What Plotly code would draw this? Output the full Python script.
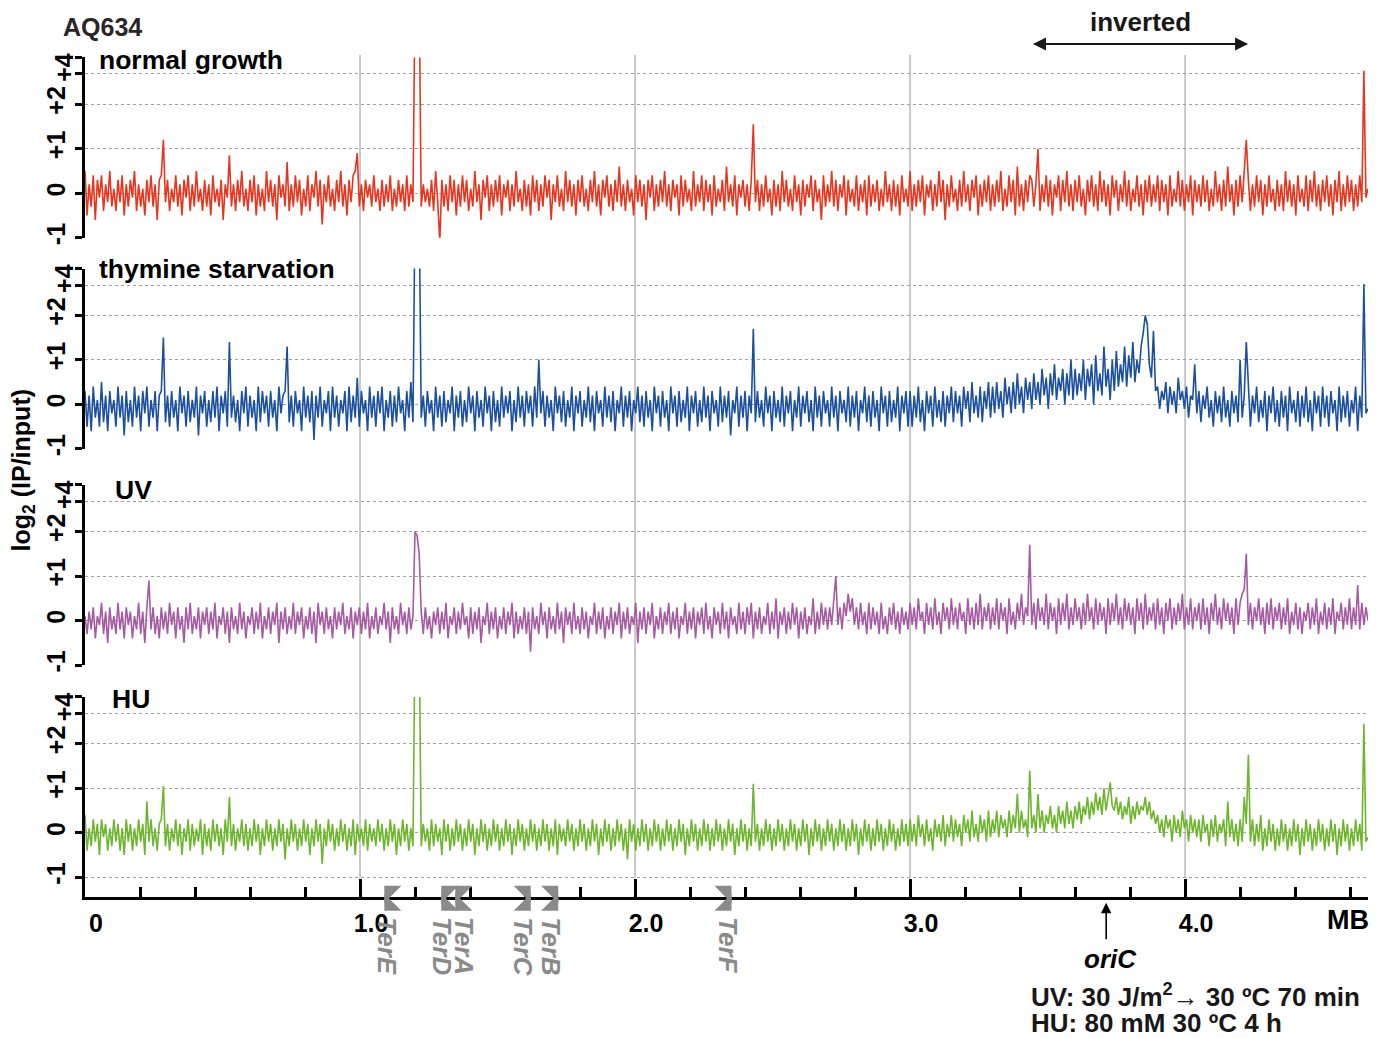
import plotly.graph_objects as go

W, H = 1388, 1038       # target picture size
BODY = 8                # default HTML body margin of the page
VSCALE = 1.0077         # compensates the slight vertical squeeze seen in the photographed page
BIN_MB = 0.0075         # genomic bin size (MB) of the tiled data points
GENOME_END = 4.665      # right end of the x axis (MB)

# ---------------- data (log2 IP/input per bin) ----------------
normal_growth = [
    0.5, -0.5, 0.2, -0.3, 0.4, -0.6, 0.3, -0.1, 0.4, -0.4, 0.2, -0.2, 0.5, -0.3, 0.1, -0.4, 0.3, -0.2, 0.4, -0.5,
    0.2, -0.3, 0.3, -0.1, 0.5, -0.4, 0.2, -0.3, 0.1, -0.5, 0.3, -0.2, 0.4, -0.3, 0.2, -0.6, 0.3, 0.4, 1.2, -0.2,
    0.3, -0.4, 0.1, -0.2, 0.4, -0.3, 0.2, -0.5, 0.3, -0.1, 0.4, -0.4, 0.2, -0.3, 0.5, -0.2, 0.1, -0.4, 0.3, -0.3,
    0.2, -0.5, 0.4, -0.2, 0.1, -0.3, 0.3, -0.6, 0.2, -0.1, 0.85, -0.3, 0.2, -0.4, 0.3, -0.2, 0.5, -0.3, 0.1, -0.4,
    0.3, -0.2, 0.4, -0.5, 0.2, -0.3, 0.1, -0.4, 0.5, -0.2, 0.3, -0.3, 0.2, -0.6, 0.4, -0.1, 0.2, -0.3, 0.7, -0.4,
    0.2, -0.3, 0.4, -0.2, 0.3, -0.5, 0.1, -0.3, 0.4, -0.4, 0.2, -0.1, 0.5, -0.3, 0.3, -0.7, 0.2, -0.2, 0.4, -0.3,
    0.1, -0.4, 0.3, -0.2, 0.5, -0.3, 0.2, -0.5, 0.3, -0.2, 0.4, 0.5, 0.9, -0.3, 0.2, -0.4, 0.3, -0.1, 0.2, -0.3,
    0.4, -0.2, 0.1, -0.4, 0.3, -0.3, 0.2, -0.2, 0.4, -0.4, 0.1, -0.3, 0.3, -0.2, 0.2, -0.4, 0.4, -0.3, 0.2, -0.2,
    4.5, 4.5, 4.5, -0.3, 0.2, -0.2, 0.1, -0.3, 0.3, -0.4, 0.5, -0.2, -1.1, 0.3, -0.3, 0.2, -0.4, 0.4, -0.2, 0.3,
    -0.5, 0.2, -0.3, 0.4, -0.2, 0.3, -0.4, 0.1, -0.3, 0.5, -0.2, 0.2, -0.6, 0.3, -0.1, 0.4, -0.4, 0.2, -0.3, 0.3,
    -0.2, 0.4, -0.5, 0.2, -0.1, 0.3, -0.4, 0.2, -0.3, 0.5, -0.2, 0.1, -0.4, 0.3, -0.3, 0.2, -0.5, 0.4, -0.2, 0.3,
    -0.4, 0.2, -0.3, 0.4, -0.1, 0.3, -0.6, 0.2, -0.2, 0.4, -0.3, 0.1, -0.4, 0.5, -0.2, 0.3, -0.3, 0.2, -0.5, 0.3,
    -0.2, 0.4, -0.3, 0.1, -0.4, 0.3, -0.2, 0.5, -0.3, 0.2, -0.5, 0.3, -0.1, 0.4, -0.3, 0.2, -0.4, 0.3, -0.2, 0.6,
    -0.3, 0.2, -0.4, 0.3, -0.2, 0.1, -0.5, 0.4, -0.2, 0.3, -0.3, 0.2, -0.6, 0.3, -0.1, 0.4, -0.4, 0.2, -0.3, 0.3,
    -0.2, 0.5, -0.3, 0.2, -0.4, 0.3, -0.1, 0.2, -0.5, 0.4, -0.3, 0.3, -0.2, 0.1, -0.4, 0.5, -0.3, 0.2, -0.2, 0.4,
    -0.4, 0.3, -0.2, 0.2, -0.5, 0.4, -0.3, 0.1, -0.2, 0.3, -0.4, 0.6, -0.2, 0.2, -0.3, 0.4, -0.5, 0.2, -0.1, 0.3,
    -0.3, 0.2, -0.4, 0.3, 1.55, -0.2, 0.3, -0.4, 0.2, -0.3, 0.4, -0.2, 0.1, -0.5, 0.3, -0.3, 0.2, -0.4, 0.5, -0.2,
    0.3, -0.3, 0.1, -0.4, 0.4, -0.2, 0.2, -0.5, 0.3, -0.3, 0.2, -0.1, 0.4, -0.4, 0.3, -0.2, 0.1, -0.6, 0.4, -0.3,
    0.2, -0.2, 0.5, -0.3, 0.3, -0.4, 0.2, -0.1, 0.4, -0.5, 0.3, -0.2, 0.1, -0.3, 0.4, -0.4, 0.2, -0.2, 0.3, -0.5,
    0.4, -0.3, 0.2, -0.2, 0.3, -0.4, 0.1, -0.3, 0.5, -0.2, 0.2, -0.4, 0.3, -0.3, 0.2, -0.5, 0.4, -0.2, 0.1, -0.3,
    0.5, -0.4, 0.2, -0.3, 0.3, -0.2, 0.4, -0.5, 0.2, -0.1, 0.3, -0.4, 0.2, -0.3, 0.5, -0.2, 0.3, -0.6, 0.2, -0.3,
    0.4, -0.2, 0.1, -0.4, 0.3, -0.3, 0.5, -0.2, 0.2, -0.4, 0.3, -0.1, 0.4, -0.5, 0.2, -0.3, 0.3, -0.2, 0.4, -0.4,
    0.2, -0.3, 0.3, -0.2, 0.5, -0.4, 0.1, -0.3, 0.4, -0.2, 0.3, -0.5, 0.6, -0.3, 0.2, -0.4, 0.3, -0.2, 0.4, 0.3,
    -0.3, 0.2, 1.0, -0.4, 0.2, -0.2, 0.4, -0.3, 0.3, -0.5, 0.2, -0.1, 0.4, -0.4, 0.3, -0.2, 0.5, -0.3, 0.2, -0.4,
    0.3, -0.2, 0.4, -0.3, 0.1, -0.5, 0.3, -0.2, 0.4, -0.3, 0.2, -0.4, 0.5, -0.2, 0.3, -0.3, 0.2, -0.5, 0.4, -0.1,
    0.3, -0.4, 0.2, -0.2, 0.5, -0.3, 0.3, -0.4, 0.1, -0.2, 0.4, -0.3, 0.2, -0.5, 0.3, -0.2, 0.4, -0.3, 0.2, -0.2,
    0.4, -0.4, 0.3, -0.2, 0.2, -0.5, 0.4, -0.3, 0.1, -0.2, 0.5, -0.3, 0.3, -0.4, 0.2, -0.2, 0.4, -0.5, 0.3, -0.2,
    0.2, -0.3, 0.4, -0.2, 0.3, -0.4, 0.1, -0.3, 0.5, -0.2, 0.2, -0.4, 0.3, -0.3, 0.6, -0.2, 0.2, -0.5, 0.3, -0.3,
    0.4, -0.2, 0.5, 1.2, 0.3, -0.4, 0.2, -0.3, 0.4, -0.2, 0.3, -0.5, 0.2, -0.3, 0.4, -0.2, 0.1, -0.4, 0.3, -0.3,
    0.2, -0.4, 0.5, -0.2, 0.3, -0.3, 0.2, -0.5, 0.4, -0.2, 0.1, -0.3, 0.4, -0.4, 0.3, -0.2, 0.5, -0.3, 0.2, -0.4,
    0.3, -0.2, 0.4, -0.3, 0.2, -0.5, 0.3, -0.2, 0.5, -0.4, 0.2, -0.3, 0.4, -0.2, 0.3, -0.4, 0.2, -0.3, 0.4, -0.2,
    2.75, -0.1, 0.1,
]

thymine_starvation = [
    0.3, -0.5, 0.2, -0.6, 0.4, -0.3, 0.1, -0.5, 0.5, -0.4, 0.2, -0.6, 0.3, -0.2, 0.1, -0.5, 0.4, -0.3, 0.2, -0.7,
    0.3, -0.4, 0.1, -0.5, 0.4, -0.3, 0.2, -0.6, 0.3, -0.2, 0.4, -0.5, 0.1, -0.3, 0.3, -0.6, 0.2, 0.3, 1.5, -0.4,
    0.2, -0.5, 0.3, -0.3, 0.1, -0.6, 0.4, -0.2, 0.2, -0.5, 0.3, -0.4, 0.1, -0.3, 0.4, -0.7, 0.2, -0.2, 0.3, -0.5,
    0.1, -0.4, 0.3, -0.3, 0.4, -0.6, 0.2, -0.2, 0.3, -0.5, 1.4, -0.3, 0.2, -0.4, 0.1, -0.6, 0.3, -0.2, 0.4, -0.5,
    0.2, -0.3, 0.1, -0.6, 0.4, -0.4, 0.3, -0.2, 0.2, -0.5, 0.3, -0.3, 0.1, -0.6, 0.4, -0.2, 0.2, 0.3, 1.3, -0.4,
    0.2, -0.5, 0.3, -0.2, 0.1, -0.6, 0.4, -0.3, 0.2, -0.4, 0.3, -0.8, 0.2, -0.3, 0.4, -0.5, 0.1, -0.2, 0.3, -0.6,
    0.4, -0.3, 0.2, -0.5, 0.1, -0.2, 0.3, -0.6, 0.4, -0.4, 0.2, -0.3, 0.6, -0.5, 0.3, -0.2, 0.1, -0.6, 0.4, -0.3,
    0.2, -0.5, 0.3, -0.2, 0.4, -0.6, 0.1, -0.3, 0.3, -0.5, 0.2, -0.4, 0.4, -0.2, 0.1, -0.6, 0.3, -0.3, 0.5, -0.4,
    4.5, 4.5, 4.5, -0.3, 0.2, -0.5, 0.3, -0.2, 0.1, -0.6, 0.4, -0.3, 0.2, -0.5, 0.3, -0.4, 0.1, -0.2, 0.4, -0.6,
    0.2, -0.3, 0.3, -0.5, 0.1, -0.4, 0.4, -0.2, 0.2, -0.6, 0.3, -0.3, 0.1, -0.5, 0.4, -0.2, 0.2, -0.6, 0.3, -0.4,
    0.1, -0.5, 0.4, -0.3, 0.2, -0.2, 0.3, -0.6, 0.1, -0.4, 0.4, -0.3, 0.2, -0.5, 0.3, -0.2, 0.2, -0.5, 0.4, -0.3,
    1.0, -0.2, 0.3, -0.5, 0.2, -0.3, 0.1, -0.6, 0.4, -0.2, 0.2, -0.4, 0.3, -0.5, 0.1, -0.3, 0.4, -0.6, 0.2, -0.2,
    0.3, -0.5, 0.1, -0.3, 0.4, -0.4, 0.2, -0.6, 0.3, -0.2, 0.1, -0.5, 0.4, -0.3, 0.2, -0.4, 0.3, -0.6, 0.1, -0.2,
    0.4, -0.5, 0.2, -0.3, 0.3, -0.6, 0.1, -0.2, 0.4, -0.4, 0.2, -0.5, 0.3, -0.3, 0.1, -0.6, 0.4, -0.2, 0.2, -0.5,
    0.3, -0.3, 0.1, -0.6, 0.4, -0.2, 0.2, -0.5, 0.3, -0.4, 0.1, -0.3, 0.4, -0.6, 0.2, -0.2, 0.3, -0.5, 0.1, -0.4,
    0.4, -0.3, 0.2, -0.6, 0.3, -0.2, 0.1, -0.5, 0.4, -0.4, 0.2, -0.3, 0.3, -0.7, 0.1, -0.2, 0.4, -0.5, 0.2, -0.3,
    0.3, -0.6, 0.2, -0.2, 1.7, -0.4, 0.3, -0.3, 0.1, -0.5, 0.4, -0.2, 0.2, -0.6, 0.3, -0.3, 0.1, -0.4, 0.4, -0.5,
    0.2, -0.2, 0.3, -0.6, 0.1, -0.3, 0.4, -0.5, 0.2, -0.2, 0.3, -0.4, 0.1, -0.6, 0.4, -0.3, 0.2, -0.5, 0.3, -0.2,
    0.1, -0.5, 0.4, -0.3, 0.2, -0.6, 0.3, -0.2, 0.1, -0.4, 0.4, -0.5, 0.2, -0.3, 0.3, -0.6, 0.1, -0.2, 0.4, -0.4,
    0.2, -0.5, 0.3, -0.3, 0.1, -0.6, 0.4, -0.2, 0.2, -0.5, 0.3, -0.4, 0.1, -0.3, 0.4, -0.6, 0.2, -0.2, 0.3, -0.5,
    0.3, -0.5, 0.2, -0.3, 0.4, -0.4, 0.1, -0.6, 0.3, -0.2, 0.2, -0.5, 0.4, -0.3, 0.1, -0.4, 0.3, -0.5, 0.2, -0.2,
    0.4, -0.4, 0.3, -0.2, 0.2, -0.5, 0.4, -0.1, 0.3, -0.4, 0.5, -0.2, 0.2, -0.3, 0.4, -0.4, 0.3, -0.1, 0.5, -0.3,
    0.4, -0.2, 0.5, -0.1, 0.3, -0.3, 0.6, 0.0, 0.4, -0.2, 0.5, -0.1, 0.7, 0.0, 0.4, -0.2, 0.6, 0.1, 0.5, -0.1,
    0.7, 0.1, 0.5, 0.0, 0.8, 0.2, 0.6, -0.1, 0.7, 0.2, 0.9, 0.1, 0.6, 0.3, 0.8, 0.0, 0.7, 0.2, 1.0, 0.1,
    0.8, 0.2, 0.7, 0.3, 1.0, 0.1, 0.8, 0.4, 0.9, 0.0, 1.1, 0.3, 0.7, 0.2, 1.3, 0.4, 0.8, 0.1, 1.0, 0.3,
    1.2, 0.4, 0.9, 0.5, 1.3, 0.4, 1.1, 0.6, 1.4, 0.5, 1.0, 0.7, 1.3, 1.6, 2.0, 1.8, 0.9, 0.6, 1.65, 0.3,
    0.4, -0.1, 0.3, 0.1, 0.5, -0.2, 0.4, 0.0, 0.3, -0.2, 0.6, 0.1, 0.3, -0.1, 0.4, -0.3, 0.2, 0.1, 0.9, -0.2,
    0.3, -0.4, 0.2, -0.1, 0.4, -0.3, 0.1, -0.5, 0.3, -0.2, 0.2, -0.4, 0.4, -0.3, 0.1, -0.5, 0.3, -0.2, 0.2, -0.4,
    1.0, -0.3, 0.2, 1.4, 0.3, -0.5, 0.2, -0.2, 0.4, -0.4, 0.1, -0.3, 0.3, -0.6, 0.2, -0.2, 0.4, -0.4, 0.1, -0.5,
    0.3, -0.3, 0.2, -0.6, 0.4, -0.2, 0.1, -0.4, 0.3, -0.5, 0.2, -0.3, 0.4, -0.4, 0.1, -0.6, 0.3, -0.2, 0.2, -0.5,
    0.4, -0.3, 0.2, -0.5, 0.3, -0.2, 0.1, -0.6, 0.4, -0.4, 0.2, -0.3, 0.3, -0.5, 0.1, -0.2, 0.4, -0.6, 0.2, -0.3,
    2.7, -0.2, -0.1,
]

uv = [
    0.1, -0.3, 0.2, -0.2, 0.3, -0.4, 0.1, -0.1, 0.4, -0.3, 0.2, -0.5, 0.3, -0.2, 0.1, -0.3, 0.4, -0.2, 0.2, -0.4,
    0.3, -0.1, 0.2, -0.4, 0.1, -0.2, 0.4, -0.3, 0.2, -0.5, 0.3, 0.9, -0.2, 0.3, -0.3, 0.1, -0.4, 0.3, -0.2, 0.2,
    -0.3, 0.4, -0.1, 0.2, -0.4, 0.3, -0.2, 0.1, -0.5, 0.3, -0.2, 0.4, -0.3, 0.1, -0.2, 0.3, -0.4, 0.2, -0.1, 0.3,
    -0.3, 0.2, -0.2, 0.4, -0.4, 0.1, -0.1, 0.3, -0.3, 0.2, -0.5, 0.3, -0.2, 0.1, -0.3, 0.4, -0.2, 0.2, -0.4, 0.1,
    -0.1, 0.3, -0.3, 0.2, -0.2, 0.4, -0.4, 0.1, -0.2, 0.3, -0.3, 0.2, -0.1, 0.4, -0.5, 0.2, -0.2, 0.3, -0.3, 0.1,
    -0.2, 0.4, -0.3, 0.2, -0.1, 0.3, -0.4, 0.1, -0.2, 0.3, -0.3, 0.2, -0.5, 0.4, -0.1, 0.2, -0.3, 0.3, -0.2, 0.1,
    -0.4, 0.3, -0.2, 0.2, -0.1, 0.4, -0.3, 0.1, -0.2, 0.3, -0.4, 0.2, -0.1, 0.3, -0.3, 0.2, -0.2, 0.4, -0.4, 0.1,
    -0.2, 0.3, -0.3, 0.1, -0.1, 0.4, -0.2, 0.2, -0.5, 0.3, -0.2, 0.1, -0.3, 0.4, -0.1, 0.2, -0.3, 0.3, -0.2, 0.1,
    2.0, 1.9, 1.5, 0.2, -0.3, 0.3, -0.2, 0.1, -0.4, 0.2, -0.1, 0.3, -0.3, 0.2, -0.2, 0.4, -0.4, 0.1, -0.1, 0.3,
    -0.3, 0.2, -0.2, 0.4, -0.1, 0.1, -0.4, 0.3, -0.3, 0.2, -0.2, 0.3, -0.5, 0.1, -0.1, 0.4, -0.3, 0.2, -0.2, 0.3,
    -0.4, 0.1, -0.2, 0.3, -0.3, 0.2, -0.1, 0.4, -0.4, 0.2, -0.3, 0.1, -0.2, 0.3, -0.3, 0.2, -0.7, 0.3, -0.2, 0.1,
    -0.3, 0.4, -0.1, 0.2, -0.4, 0.3, -0.2, 0.1, -0.3, 0.4, -0.2, 0.2, -0.5, 0.3, -0.1, 0.2, -0.3, 0.4, -0.2, 0.1,
    -0.3, 0.3, -0.2, 0.2, -0.4, 0.1, -0.1, 0.4, -0.3, 0.2, -0.2, 0.3, -0.4, 0.1, -0.2, 0.3, -0.3, 0.2, -0.1, 0.4,
    -0.4, 0.2, -0.2, 0.3, -0.3, 0.1, -0.1, 0.4, -0.5, 0.2, -0.2, 0.3, -0.3, 0.2, -0.1, 0.4, -0.4, 0.1, -0.2, 0.3,
    -0.3, 0.2, -0.1, 0.4, -0.3, 0.2, -0.2, 0.3, -0.4, 0.1, -0.1, 0.4, -0.3, 0.2, -0.2, 0.3, -0.4, 0.2, -0.1, 0.3,
    -0.3, 0.4, -0.2, 0.1, -0.4, 0.3, -0.1, 0.2, -0.3, 0.4, -0.2, 0.2, -0.4, 0.3, -0.1, 0.1, -0.3, 0.4, -0.2, 0.2,
    -0.3, 0.3, -0.1, 0.4, -0.4, 0.2, -0.2, 0.3, -0.3, 0.1, -0.1, 0.4, -0.3, 0.2, -0.2, 0.5, -0.4, 0.2, -0.1, 0.3,
    -0.3, 0.2, -0.2, 0.4, -0.1, 0.3, -0.4, 0.2, -0.2, 0.3, -0.3, 0.1, -0.1, 0.5, -0.3, 0.2, -0.2, 0.4, -0.1, 0.3,
    -0.2, 0.3, -0.1, 0.4, 1.0, -0.1, 0.3, -0.2, 0.4, 0.1, 0.6, 0.2, 0.5, -0.1, 0.3, -0.2, 0.4, -0.1, 0.2, -0.3,
    0.4, -0.2, 0.3, -0.1, 0.2, -0.3, 0.4, -0.2, 0.1, -0.3, 0.3, -0.1, 0.4, -0.2, 0.2, -0.3, 0.3, -0.1, 0.2, -0.2,
    0.4, -0.1, 0.3, -0.2, 0.5, 0.0, 0.2, -0.3, 0.4, -0.1, 0.3, -0.2, 0.5, -0.1, 0.2, -0.3, 0.4, 0.0, 0.3, -0.2,
    0.5, -0.1, 0.3, -0.2, 0.4, 0.0, 0.2, -0.3, 0.5, -0.1, 0.3, -0.2, 0.4, -0.1, 0.6, -0.2, 0.3, 0.0, 0.4, -0.2,
    0.3, -0.1, 0.5, -0.2, 0.4, 0.0, 0.3, -0.3, 0.5, -0.1, 0.2, -0.2, 0.4, 0.0, 0.6, -0.1, 0.3, 0.1, 1.7, -0.1,
    0.4, -0.2, 0.5, 0.0, 0.3, -0.1, 0.6, -0.2, 0.4, 0.0, 0.3, -0.3, 0.5, -0.1, 0.4, 0.0, 0.6, -0.2, 0.3, -0.1,
    0.5, 0.0, 0.3, -0.2, 0.4, -0.1, 0.6, 0.0, 0.3, -0.2, 0.5, -0.1, 0.4, 0.0, 0.3, -0.3, 0.5, -0.1, 0.4, 0.0,
    0.6, -0.1, 0.3, -0.2, 0.5, 0.0, 0.4, -0.1, 0.3, -0.3, 0.5, 0.0, 0.4, -0.2, 0.6, -0.1, 0.3, 0.0, 0.4, -0.2,
    0.5, -0.1, 0.3, -0.3, 0.4, 0.0, 0.5, -0.2, 0.3, -0.1, 0.4, 0.0, 0.6, -0.2, 0.3, -0.1, 0.5, -0.2, 0.3, 0.0,
    0.4, -0.2, 0.5, -0.1, 0.3, -0.3, 0.4, 0.0, 0.6, -0.1, 0.3, -0.2, 0.5, 0.0, 0.4, -0.1, 0.3, -0.3, 0.5, -0.1,
    0.4, 0.6, 0.7, 1.5, -0.1, 0.4, -0.2, 0.3, 0.0, 0.5, -0.1, 0.3, -0.3, 0.4, -0.1, 0.5, -0.2, 0.3, 0.0, 0.4,
    -0.2, 0.3, -0.1, 0.5, -0.3, 0.2, -0.1, 0.4, -0.2, 0.3, -0.3, 0.2, 0.0, 0.4, -0.2, 0.3, -0.1, 0.5, -0.3, 0.2,
    -0.1, 0.4, -0.2, 0.3, -0.1, 0.5, -0.3, 0.2, 0.0, 0.4, -0.2, 0.3, -0.1, 0.5, -0.2, 0.3, -0.1, 0.8, -0.2, 0.4,
    -0.1, 0.3, 0.0,
]

hu = [
    0.4, -0.4, 0.1, -0.3, 0.3, -0.2, 0.2, -0.5, 0.3, -0.1, 0.2, -0.4, 0.1, -0.3, 0.3, -0.2, 0.2, -0.4, 0.1, -0.5,
    0.3, -0.2, 0.2, -0.4, 0.1, -0.3, 0.3, -0.2, 0.2, -0.5, 0.7, -0.2, 0.3, -0.3, 0.1, -0.4, 0.2, 0.3, 1.05, -0.3,
    0.2, -0.4, 0.1, -0.2, 0.3, -0.3, 0.2, -0.5, 0.1, -0.2, 0.3, -0.4, 0.2, -0.3, 0.1, -0.2, 0.3, -0.5, 0.2, -0.3,
    0.1, -0.4, 0.3, -0.2, 0.2, -0.3, 0.1, -0.5, 0.3, -0.2, 0.8, -0.3, 0.2, -0.4, 0.1, -0.2, 0.3, -0.3, 0.2, -0.4,
    0.1, -0.3, 0.3, -0.2, 0.2, -0.5, 0.1, -0.3, 0.3, -0.2, 0.2, -0.4, 0.1, -0.3, 0.3, -0.2, 0.2, -0.6, 0.1, -0.3,
    0.3, -0.2, 0.2, -0.4, 0.1, -0.3, 0.3, -0.2, 0.2, -0.5, 0.1, -0.3, 0.3, -0.2, 0.2, -0.7, 0.1, -0.3, 0.3, -0.2,
    0.2, -0.4, 0.1, -0.3, 0.3, -0.2, 0.2, -0.4, 0.1, -0.3, 0.3, -0.5, 0.2, -0.2, 0.1, -0.3, 0.3, -0.4, 0.2, -0.2,
    0.1, -0.3, 0.3, -0.2, 0.2, -0.4, 0.1, -0.3, 0.3, -0.2, 0.2, -0.5, 0.1, -0.3, 0.3, -0.2, 0.2, -0.4, 0.1, -0.3,
    4.5, 4.5, 4.5, -0.3, 0.2, -0.2, 0.1, -0.4, 0.3, -0.3, 0.2, -0.2, 0.1, -0.5, 0.3, -0.2, 0.2, -0.4, 0.1, -0.3,
    0.3, -0.2, 0.2, -0.4, 0.1, -0.3, 0.3, -0.2, 0.2, -0.5, 0.1, -0.3, 0.3, -0.2, 0.2, -0.4, 0.1, -0.3, 0.3, -0.2,
    0.2, -0.4, 0.1, -0.3, 0.3, -0.2, 0.2, -0.5, 0.1, -0.3, 0.3, -0.2, 0.2, -0.4, 0.1, -0.3, 0.3, -0.2, 0.2, -0.4,
    0.1, -0.3, 0.3, -0.2, 0.2, -0.4, 0.1, -0.3, 0.3, -0.5, 0.2, -0.2, 0.1, -0.3, 0.3, -0.2, 0.2, -0.4, 0.1, -0.3,
    0.3, -0.2, 0.2, -0.4, 0.1, -0.3, 0.3, -0.2, 0.2, -0.5, 0.1, -0.3, 0.3, -0.2, 0.2, -0.4, 0.1, -0.3, 0.3, -0.2,
    0.2, -0.4, 0.1, -0.6, 0.3, -0.2, 0.2, -0.4, 0.1, -0.3, 0.3, -0.2, 0.2, -0.4, 0.1, -0.3, 0.3, -0.2, 0.2, -0.4,
    0.1, -0.3, 0.3, -0.2, 0.2, -0.4, 0.1, -0.3, 0.3, -0.2, 0.2, -0.5, 0.1, -0.3, 0.3, -0.2, 0.2, -0.4, 0.1, -0.3,
    0.3, -0.2, 0.2, -0.4, 0.1, -0.3, 0.3, -0.2, 0.2, -0.4, 0.1, -0.3, 0.3, -0.2, 0.2, -0.5, 0.1, -0.3, 0.3, -0.2,
    0.2, -0.4, 0.1, -0.3, 1.1, -0.2, 0.2, -0.4, 0.1, -0.3, 0.3, -0.2, 0.2, -0.4, 0.1, -0.3, 0.3, -0.2, 0.2, -0.4,
    0.1, -0.3, 0.3, -0.2, 0.2, -0.4, 0.1, -0.3, 0.3, -0.2, 0.2, -0.5, 0.1, -0.3, 0.3, -0.2, 0.2, -0.4, 0.1, -0.3,
    0.3, -0.2, 0.2, -0.4, 0.1, -0.3, 0.3, -0.2, 0.2, -0.4, 0.1, -0.3, 0.3, -0.2, 0.2, -0.5, 0.1, -0.3, 0.3, -0.2,
    0.2, -0.4, 0.1, -0.3, 0.3, -0.2, 0.2, -0.4, 0.1, -0.3, 0.3, -0.2, 0.2, -0.4, 0.1, -0.3, 0.3, -0.2, 0.2, -0.3,
    0.3, -0.2, 0.2, -0.3, 0.4, -0.1, 0.2, -0.3, 0.3, -0.2, 0.1, -0.4, 0.3, -0.1, 0.2, -0.2, 0.4, -0.3, 0.2, -0.1,
    0.4, -0.2, 0.3, -0.1, 0.2, -0.3, 0.4, 0.0, 0.3, -0.2, 0.5, -0.1, 0.2, -0.2, 0.4, 0.0, 0.3, -0.2, 0.5, -0.1,
    0.3, 0.0, 0.5, -0.1, 0.4, 0.1, 0.3, -0.1, 0.5, 0.0, 0.4, 0.1, 0.87, 0.0, 0.5, 0.1, 0.3, -0.1, 1.4, 0.1,
    0.4, 0.0, 0.87, 0.1, 0.5, 0.0, 0.4, 0.2, 0.6, 0.1, 0.4, 0.0, 0.6, 0.2, 0.5, 0.1, 0.7, 0.2, 0.5, 0.1,
    0.6, 0.3, 0.7, 0.2, 0.6, 0.4, 0.8, 0.3, 0.7, 0.4, 0.9, 0.5, 0.8, 0.4, 1.0, 0.5, 0.8, 1.13, 0.6, 0.5,
    0.8, 0.4, 0.7, 0.3, 0.6, 0.4, 0.8, 0.2, 0.6, 0.3, 0.7, 0.4, 0.6, 0.5, 0.8, 0.4, 0.7, 0.3, 0.5, 0.2,
    0.4, 0.0, 0.3, -0.1, 0.4, 0.1, 0.3, -0.2, 0.4, 0.0, 0.3, -0.1, 0.5, 0.1, 0.3, -0.2, 0.4, 0.0, 0.3, -0.1,
    0.3, -0.2, 0.4, 0.0, 0.2, -0.3, 0.3, -0.1, 0.4, -0.2, 0.2, 0.0, 0.3, -0.3, 0.7, -0.1, 0.3, -0.2, 0.2, -0.3,
    0.3, -0.2, 0.8, 0.2, 1.75, -0.2, 0.3, -0.3, 0.2, -0.2, 0.4, -0.4, 0.1, -0.3, 0.3, -0.2, 0.2, -0.4, 0.1, -0.3,
    0.3, -0.2, 0.2, -0.4, 0.1, -0.3, 0.3, -0.2, 0.2, -0.5, 0.1, -0.3, 0.3, -0.2, 0.2, -0.4, 0.1, -0.3, 0.3, -0.2,
    0.2, -0.4, 0.1, -0.3, 0.3, -0.2, 0.2, -0.5, 0.1, -0.3, 0.3, -0.2, 0.2, -0.4, 0.1, -0.3, 0.3, -0.2, 0.2, -0.4,
    2.45, -0.2, -0.1,
]

panel_titles = ["normal growth", "thymine starvation", "UV", "HU"]
panel_series = [normal_growth, thymine_starvation, uv, hu]
panel_colors = ["#e8351e", "#1b4f9f", "#a65aa2", "#6cb52d"]

x_tick_vals = [0, 1, 2, 3, 4]
x_tick_text = ["0", "1.0", "2.0", "3.0", "4.0"]
y_tick_vals = [-1, 0, 1, 2, 2.68, 3.05]
y_tick_text = ["-1", "0", "+1", "+2", "", ""]
y_top_label = "+4"

ter_names = ["TerE", "TerD", "TerA", "TerC", "TerB", "TerF"]
ter_pos = [1.109, 1.316, 1.367, 1.600, 1.700, 2.330]
ter_orient = ["L", "L", "L", "R", "R", "R"]

oric_pos = 3.713
inverted_span = [3.447, 4.229]

# ---------------- layout helpers (reference pixel -> paper fraction) ----------------
FW, FH = W - 2 * BODY, H - BODY

def fx(px):
    return (px - BODY) / FW

def fy(py):
    return 1 - (py * VSCALE - BODY) / FH

PX_PER_UNIT = 44.5
zero_px = [193, 404, 620, 832]
y_top = 3.05
y_bottom = [-1.0, -1.0, -1.0, -1.45]

FONT = "Liberation Sans, Arial, Helvetica, sans-serif"
INK = "#1a1718"

fig = go.Figure()

for k, (vals, col) in enumerate(zip(panel_series, panel_colors)):
    xs = [i * BIN_MB for i in range(len(vals))]
    fig.add_trace(go.Scatter(
        x=xs, y=vals, mode="lines", name=panel_titles[k],
        line=dict(color=col, width=1.6), xaxis="x", yaxis="y" if k == 0 else f"y{k+1}",
        hoverinfo="skip",
    ))

# Ter site markers (two right-triangles per site form the notched arrow glyph)
for name, pos, o in zip(ter_names, ter_pos, ter_orient):
    top_sym = "triangle-nw" if o == "L" else "triangle-ne"
    bot_sym = "triangle-sw" if o == "L" else "triangle-se"
    fig.add_trace(go.Scatter(
        x=[pos, pos], y=[0.5, -0.5], mode="markers", xaxis="x", yaxis="y5",
        marker=dict(symbol=[top_sym, bot_sym], size=19, color="#8a8a8a", line=dict(width=0)),
        hoverinfo="skip",
    ))

layout = dict(
    width=FW, height=FH, margin=dict(l=0, r=0, t=0, b=0),
    paper_bgcolor="white", plot_bgcolor="rgba(0,0,0,0)",
    showlegend=False,
    font=dict(family=FONT, color=INK),
    xaxis=dict(
        domain=[fx(85), fx(1368)], range=[0, GENOME_END], anchor="y4",
        showline=True, linewidth=2.5, linecolor="black", mirror=False,
        ticks="inside", ticklen=19, tickwidth=2.5, tickcolor="black",
        tickmode="array", tickvals=x_tick_vals, ticktext=x_tick_text,
        tickfont=dict(size=25, weight="bold", color="black", family=FONT),
        ticklabelshift=11, ticklabelstandoff=2,
        minor=dict(tickmode="linear", tick0=0, dtick=0.2, ticks="inside",
                   ticklen=11, tickwidth=2.5, tickcolor="black", showgrid=False),
        showgrid=False, zeroline=False,
    ),
    yaxis5=dict(domain=[fy(911), fy(884)], range=[-1, 1], anchor="x",
                visible=False, showgrid=False, zeroline=False),
)

for k in range(4):
    top_px = zero_px[k] - y_top * PX_PER_UNIT
    bot_px = zero_px[k] - y_bottom[k] * PX_PER_UNIT
    key = "yaxis" if k == 0 else f"yaxis{k+1}"
    layout[key] = dict(
        domain=[fy(bot_px), fy(top_px)], range=[y_bottom[k], y_top], anchor="x",
        showline=True, linewidth=2.5, linecolor="black",
        ticks="outside", ticklen=7, tickwidth=2.5, tickcolor="black",
        tickmode="array", tickvals=y_tick_vals, ticktext=y_tick_text,
        tickangle=-90, tickfont=dict(size=25, weight="bold", color="black", family=FONT),
        showgrid=True, gridcolor="#a0a0a0", gridwidth=1, griddash="dot",
        zeroline=False,
    )

fig.update_layout(**layout)

def txt(text, px, py, size, color=INK, xanchor="center", yanchor="middle", angle=0, **kw):
    return dict(x=fx(px), y=fy(py), xref="paper", yref="paper", text=text,
                xanchor=xanchor, yanchor=yanchor, textangle=angle, showarrow=False,
                font=dict(size=size, color=color, family=FONT, weight="bold"), **kw)

ann = []
# "+4" labels between the two top ticks
for k in range(4):
    ann.append(dict(x=fx(64), y=2.84, xref="paper", yref="y" if k == 0 else f"y{k+1}",
                    text=y_top_label, textangle=-90, showarrow=False,
                    xanchor="center", yanchor="middle",
                    font=dict(size=25, color="black", family=FONT, weight="bold")))
# panel titles
title_pos = [(97, 60), (97, 269), (113, 490), (110, 698)]
for t, (px, py) in zip(panel_titles, title_pos):
    ann.append(txt(t, px, py, 26.5, color="black", xanchor="left"))
ann.append(txt("AQ634", 61, 27, 25, color="#2a2526", xanchor="left"))
# y axis title
ann.append(txt("log<sub>2</sub> (IP/input)", 23, 470, 25, color="black", angle=-90))
# MB unit
ann.append(txt("MB", 1348, 919, 27, color="black"))
# Ter labels
ter_label_shift = [-3, -5, 3, -2, -1, 2]
for name, pos, sh in zip(ter_names, ter_pos, ter_label_shift):
    ann.append(dict(x=pos, y=fy(914), xref="x", yref="paper", text=f"<i>{name}</i>",
                    textangle=90, xanchor="center", yanchor="top", showarrow=False, xshift=sh,
                    font=dict(size=26, color="#8a8a8a", family=FONT, weight="bold")))
# oriC arrow and label
ann.append(dict(x=oric_pos, y=fy(902), xref="x", yref="paper", ax=0, ay=38,
                text="", showarrow=True, arrowhead=2, arrowsize=1.3, arrowwidth=1.6,
                arrowcolor="black"))
ann.append(dict(x=oric_pos, y=fy(958), xref="x", yref="paper", text="<i>oriC</i>",
                xanchor="center", yanchor="middle", xshift=4, showarrow=False,
                font=dict(size=26, color="black", family=FONT, weight="bold")))
# inverted region double arrow
for a, b in [(inverted_span[0], inverted_span[1]), (inverted_span[1], inverted_span[0])]:
    ann.append(dict(x=a, y=fy(44), xref="x", yref="paper", ax=b, ay=0, axref="x",
                    text="", showarrow=True, arrowhead=2, arrowsize=1.3, arrowwidth=2,
                    arrowcolor="#1a1718"))
ann.append(dict(x=sum(inverted_span) / 2, y=fy(22), xref="x", yref="paper", text="inverted",
                xanchor="center", yanchor="middle", showarrow=False,
                font=dict(size=26, color="#1a1718", family=FONT, weight="bold")))
# treatment notes
ann.append(txt("UV: 30 J/m<sup>2</sup>\u2192 30 \u00baC 70 min", 1029, 995, 26, xanchor="left"))
ann.append(txt("HU: 80 mM 30 \u00baC 4 h", 1029, 1022, 26, xanchor="left"))

shapes = []
for mb in x_tick_vals[1:]:
    shapes.append(dict(type="line", xref="x", yref="paper", x0=mb, x1=mb,
                       y0=fy(877), y1=fy(55), layer="below",
                       line=dict(color="#b8b8b8", width=1.5)))

fig.update_layout(annotations=ann, shapes=shapes)
fig.write_html("out.html")
